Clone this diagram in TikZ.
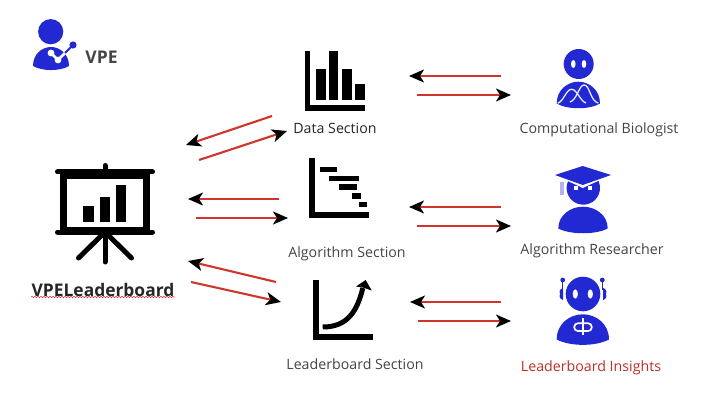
\documentclass[tikz,border=0pt]{standalone}
\usepackage{xcolor}
\usepackage{fontspec}
\setmainfont{Open Sans}
\usetikzlibrary{arrows.meta,decorations.pathmorphing}

\definecolor{iconblue}{HTML}{2229D2}
\definecolor{labelgray}{HTML}{444444}
\definecolor{flowred}{HTML}{D0352B}

\tikzset{
    flow/.style={draw=flowred, line width=2.1pt, -{Stealth[black, length=15pt, width=13pt, inset=4pt]}},
    label/.style={text=labelgray, font=\fontsize{14.2}{16}\selectfont, inner sep=0pt},
    axis/.style={draw=black, line width=5.4pt, line join=miter},
    rod/.style={draw=black, line width=5pt, line cap=round},
}

\newcommand{\domebody}[4]{%
    \fill[iconblue, shift={(#1,#2)}, xscale=#3, yscale=#4]
        (0,.8) .. controls (0,.3) and (.25,0) .. (.5,0) .. controls (.75,0) and (1,.3) .. (1,.8)
        .. controls (.75,1.03) and (.25,1.03) .. (0,.8) -- cycle;}

\begin{document}
\begin{tikzpicture}[x=1pt, y=-1pt]
    \useasboundingbox (0,0) rectangle (714,406);

    % VPE icon
    \fill[iconblue] (50.7,31.7) circle (12.6);
    \domebody{33}{47}{36}{23.7}
    \draw[white, line width=2.6pt, line cap=round, line join=round] (51,53) -- (58,60) -- (67,51);
    \fill[white] (51,53) circle (3.4) (58,60) circle (3.4);
    \draw[iconblue, line width=2pt] (65,53) -- (73,45);
    \fill[iconblue] (73,45) circle (3.6);
    \node[text=labelgray, font=\fontsize{17.5}{20}\selectfont\bfseries, inner sep=0pt] (vpe) at (101.5,57) {VPE};

    % Leaderboard screen
    \draw[rod] (105,165.5) -- (105,172);
    \draw[rod] (57.5,172) -- (152.5,172);
    \draw[rod] (57.5,232) -- (152.5,232);
    \draw[draw=black, line width=7pt] (63.7,175.7) rectangle (146.7,230.2);
    \fill[black] (83.3,206) rectangle (94,221.7);
    \fill[black] (99.7,196.7) rectangle (110.3,221.7);
    \fill[black] (115.7,184.7) rectangle (126.3,221.7);
    \draw[rod] (105,232) -- (105,262);
    \draw[rod] (105,232) -- (78.5,258);
    \draw[rod] (105,232) -- (131.5,258);
    \node[text=black!85, font=\fontsize{17.4}{20}\selectfont\bfseries, inner sep=0pt] (board) at (103,290) {VPELeaderboard};
    \draw[flowred, line width=0.5pt, decorate, decoration={snake, amplitude=0.7pt, segment length=3pt}] (31,297) -- (175,297);

    % Data Section
    \draw[axis] (307.7,51) -- (307.7,108) -- (365,108);
    \fill[black] (315.7,69.3) rectangle (325.7,100);
    \fill[black] (329,51) rectangle (338.3,100);
    \fill[black] (342,69.3) rectangle (351.7,100);
    \fill[black] (355.3,84.3) rectangle (365,100);
    \node[label, text=black!85] (data) at (335,128.5) {Data Section};

    % Algorithm Section
    \draw[axis] (312,158.3) -- (312,215) -- (368.7,215);
    \fill[black] (319.7,167) rectangle (337.3,172.3);
    \fill[black] (329.3,175.7) rectangle (359,181);
    \fill[black] (339,184.3) rectangle (356.7,189.7);
    \fill[black] (352,193) rectangle (361,198.7);
    \fill[black] (359,201.7) rectangle (367,207.3);
    \node[label] (algo) at (347,254) {Algorithm Section};

    % Leaderboard Section
    \draw[axis] (316,280) -- (316,337) -- (372.7,337);
    \draw[black, line width=5pt] (322.7,327) .. controls (347,327) and (357,312) .. (362.8,288);
    \fill[black] (365.7,280) -- (371.7,290.5) -- (362.8,287.5) -- (356,286.5) -- cycle;
    \node[label] (rank) at (355,364.5) {Leaderboard Section};

    % Computational Biologist
    \fill[iconblue] (578.7,64) circle (15);
    \fill[white] (573.3,64) ellipse (2.3 and 4);
    \fill[white] (584,64) ellipse (2.3 and 4);
    \domebody{556.7}{81.7}{43.3}{27.3}
    \draw[white!90!iconblue, line width=1.3pt] (557.7,103.3) .. controls (564,101) and (566,89.3) .. (571.7,89.3) .. controls (577,89.3) and (580,101) .. (586,103);
    \draw[white!90!iconblue, line width=1.3pt] (570,102) .. controls (577,100) and (579,85) .. (584,85) .. controls (590,85) and (590,101) .. (598.3,103);
    \node[label] (bio) at (599,130) {Computational Biologist};

    % Algorithm Researcher
    \fill[iconblue] (583.3,188) circle (16.7);
    \fill[white] (555,175) -- (582.7,166) -- (611,175) -- (582.7,188) -- cycle;
    \fill[iconblue] (555,175) -- (582.7,166) -- (611,175) -- (582.7,185) -- cycle;
    \fill[white] (574,186) rectangle (578,190);
    \fill[white] (588,186) rectangle (592,190);
    \fill[iconblue!35] (560,181.7) rectangle (564,195);
    \domebody{558.3}{206.7}{49.4}{27.3}
    \node[label] (researcher) at (592,251) {Algorithm Researcher};

    % Leaderboard Insights
    \fill[iconblue] (560,294) .. controls (559,291) and (560,289) .. (563,288) -- (563,300) .. controls (560,299) and (559,297) .. (560,294) -- cycle;
    \fill[iconblue] (606,294) .. controls (607,291) and (606,289) .. (603,288) -- (603,300) .. controls (606,299) and (607,297) .. (606,294) -- cycle;
    \draw[iconblue, line width=0.9pt] (562.7,280) -- (562.7,290);
    \draw[iconblue, line width=0.9pt] (602.3,280) -- (602.3,290);
    \fill[iconblue] (562.7,280) circle (2.4);
    \fill[iconblue] (602.3,280) circle (2.4);
    \fill[white] (583,294) circle (18.3);
    \fill[iconblue] (583,294) circle (17.3);
    \fill[white] (575.3,294) ellipse (2.6 and 4.6);
    \fill[white] (590.3,294) ellipse (2.6 and 4.6);
    \domebody{556.7}{314.3}{52.3}{31.4}
    \draw[white, line width=1.7pt, rounded corners=3.5pt] (574.3,323.3) rectangle (591.7,331);
    \draw[white, line width=1.7pt] (583,318) -- (583,335);
    \node[label, text=flowred!90!black] (insights) at (591,368) {Leaderboard Insights};

    % Arrow ends
    \foreach \name/\x/\y in {
        dla/272/116, dlb/186/145, dlc/199/160, dld/287/131,
        ala/279/199, alb/188/199, alc/196/218, ald/288/218,
        lla/276/282, llb/188/261, llc/191/282, lld/281/302,
        dra/501/76, drb/409/76, drc/417/95, drd/511/95,
        ara/501/207, arb/409/207, arc/417/226, ard/511/226,
        lra/501/302, lrb/410/302, lrc/418/321, lrd/511/321}
        \coordinate (\name) at (\x,\y);

    % Arrows
    \draw[flow] (dla) -- (dlb);
    \draw[flow] (dlc) -- (dld);
    \draw[flow] (ala) -- (alb);
    \draw[flow] (alc) -- (ald);
    \draw[flow] (lla) -- (llb);
    \draw[flow] (llc) -- (lld);
    \draw[flow] (dra) -- (drb);
    \draw[flow] (drc) -- (drd);
    \draw[flow] (ara) -- (arb);
    \draw[flow] (arc) -- (ard);
    \draw[flow] (lra) -- (lrb);
    \draw[flow] (lrc) -- (lrd);
\end{tikzpicture}
\end{document}
